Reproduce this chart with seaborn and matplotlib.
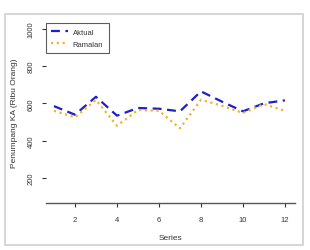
import matplotlib
matplotlib.use("Agg")
import matplotlib.pyplot as plt
import seaborn as sns
import pandas as pd
from matplotlib.patches import Rectangle

series = list(range(1, 13))
aktual = [585, 539, 635, 534, 575, 571, 557, 664, 609, 557, 600, 616]
ramalan = [560, 525, 618, 480, 564, 560, 466, 619, 587, 548, 596, 560]
yticks = [200, 400, 600, 800, 1000]
xticks = [2, 4, 6, 8, 10, 12]

sns.set_style("white")
plt.rcParams['font.family'] = ['Liberation Sans', 'DejaVu Sans']

fig = plt.figure(figsize=(3.10, 2.51), dpi=100)
ax = fig.add_axes([46/310, 1-204/251, (295-46)/310, (204-22)/251])

df_a = pd.DataFrame({"Series": series, "val": aktual})
df_r = pd.DataFrame({"Series": series, "val": ramalan})
sns.lineplot(data=df_a, x="Series", y="val", ax=ax, color="#1f1fc8",
             linestyle=(0, (4, 2.5)), linewidth=1.6, label="Aktual")
sns.lineplot(data=df_r, x="Series", y="val", ax=ax, color="#f2b234",
             linestyle=(0, (1, 1.6)), linewidth=1.6, label="Ramalan")

ax.set_xlim(0.62, 12.48)
ax.set_ylim(66, 1041)
ax.set_xticks(xticks)
ax.set_yticks(yticks)
ax.set_yticklabels([str(v) for v in yticks], rotation=90, va="center")
for s in ["top", "right", "left"]:
    ax.spines[s].set_visible(False)
ax.spines["bottom"].set_color("#555555")
ax.spines["bottom"].set_linewidth(1.0)
ax.tick_params(axis="both", labelsize=5.5, colors="#333333", length=3,
               width=0.8, direction="out", bottom=True, left=True, pad=4)
ax.tick_params(axis="x", pad=6)
ax.tick_params(axis="y", pad=5)
ax.set_xlabel("Series", fontsize=6, color="#333333", labelpad=8)
ax.set_ylabel("Penumpang KA (Ribu Orang)", fontsize=6, color="#333333", labelpad=7)

leg = ax.legend(loc="upper left", bbox_to_anchor=(0.0, 0.989), fontsize=5.5,
                frameon=True, fancybox=False, borderpad=0.7, handlelength=2.2,
                handletextpad=0.6, labelspacing=0.65, borderaxespad=0.0)
leg.get_frame().set_edgecolor("#333333")
leg.get_frame().set_linewidth(0.8)
for t in leg.get_texts():
    t.set_color("#333333")

fig.patches.append(Rectangle((5/310, 1-246/251), (303-5)/310, (246-15)/251,
                             transform=fig.transFigure, fill=False,
                             edgecolor="#d0d0d0", linewidth=1.2))

fig.savefig("out.png", dpi=100)
